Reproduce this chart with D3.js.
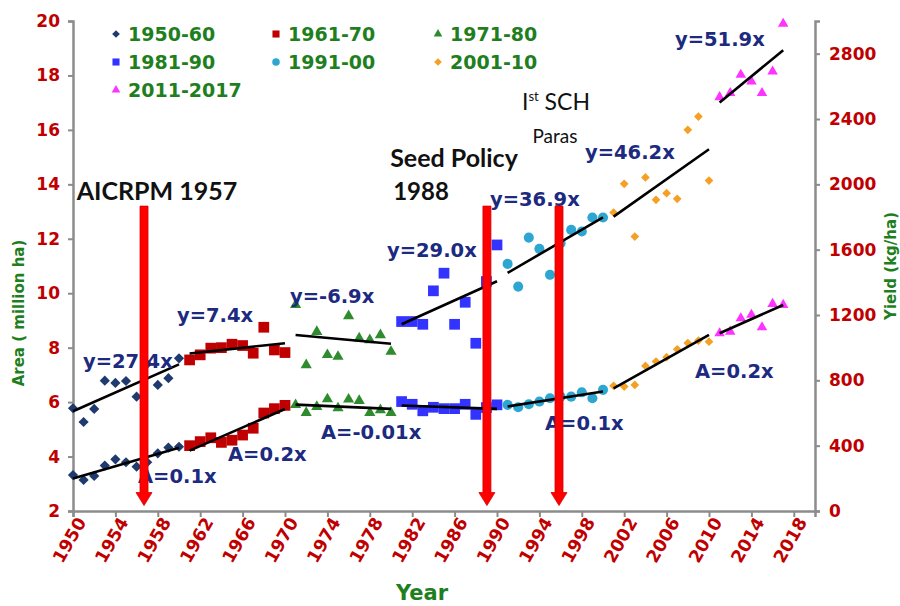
<!DOCTYPE html>
<html><head><meta charset="utf-8">
<script src="https://cdn.jsdelivr.net/npm/d3@7"></script>
<style>
html,body{margin:0;padding:0;background:#fff;}
svg{display:block;}
</style></head>
<body>
<svg id="chart" width="900" height="606"></svg>
<script>
// ---------- DATA ----------
const seriesNames = ["1950-60","1961-70","1971-80","1981-90","1991-00","2001-10","2011-2017"];
const years5060 = [1950,1951,1952,1953,1954,1955,1956,1957,1958,1959,1960];
const years6170 = [1961,1962,1963,1964,1965,1966,1967,1968,1969,1970];
const years7180 = [1971,1972,1973,1974,1975,1976,1977,1978,1979,1980];
const years8190 = [1981,1982,1983,1984,1985,1986,1987,1988,1989,1990];
const years9100 = [1991,1992,1993,1994,1995,1996,1997,1998,1999,2000];
const years0110 = [2001,2002,2003,2004,2005,2006,2007,2008,2009,2010];
const years1117 = [2011,2012,2013,2014,2015,2016,2017];

// Yield (kg/ha) – right axis
const yield5060 = [629,545,625,798,784,796,700,900,772,813,935];
const yield6170 = [925,956,997,1000,1021,1013,966,1125,986,970];
const yield7180 = [1262,894,1098,956,945,1194,1058,1047,1078,976];
const yield8190 = [1160,1160,1143,1348,1456,1143,1278,1027,1405,1629];
const yield9100 = [1513,1374,1674,1605,1446,1640,1721,1711,1797,1797];
const yield0110 = [1827,2003,1680,2042,1905,1946,1911,2334,2415,2023];
const yield1117 = [2534,2559,2671,2630,2559,2691,2983];

// Area (million ha) – left axis
const area5060 = [3.32,3.14,3.29,3.67,3.90,3.79,3.63,3.79,4.12,4.33,4.36];
const area6170 = [4.40,4.55,4.69,4.52,4.60,4.79,5.04,5.60,5.76,5.88];
const area7180 = [5.90,5.61,5.83,6.11,5.78,6.10,6.05,5.61,5.71,5.61];
const area8190 = [6.02,5.92,5.68,5.81,5.76,5.76,5.92,5.55,5.80,5.90];
const area9100 = [5.90,5.81,5.92,6.02,6.14,6.20,6.20,6.36,6.14,6.45];
const area0110 = [6.60,6.57,6.63,7.33,7.49,7.65,7.94,8.17,8.26,8.22];
const area1117 = [8.53,8.59,9.08,9.21,8.75,9.61,9.57];

const yieldEq = ["y=27.4x","y=7.4x","y=-6.9x","y=29.0x","y=36.9x","y=46.2x","y=51.9x"];
const areaEq  = ["A=0.1x","A=0.2x","A=-0.01x","A=0.1x","A=0.2x"];

const leftTicks  = [2,4,6,8,10,12,14,16,18,20];
const rightTicks = [0,400,800,1200,1600,2000,2400,2800];
const xTicks = [1950,1954,1958,1962,1966,1970,1974,1978,1982,1986,1990,1994,1998,2002,2006,2010,2014,2018];

const eventYears = [1956.7,1989.05,1995.85];
const eventTop = 13.2, eventBottom = 2.2;

// ---------- SETUP ----------
const svg = d3.select("#chart");
const x  = d3.scaleLinear().domain([1950,2020]).range([73,815]);
const yL = d3.scaleLinear().domain([2,20]).range([511,21]);
const yR = d3.scaleLinear().domain([0,3000]).range([511,21]);

const RED = "#c00000", GREEN = "#1f7f1f", NAVY = "#1c2a80", AXIS = "#8c8c8c";
const FONT = "'DejaVu Sans', Verdana, sans-serif";

const styles = [
  {color:"#1f3a6e", shape:"diamond", size:52},
  {color:"#c00000", shape:"square", size:115},
  {color:"#2e8b2e", shape:"triangle", size:54},
  {color:"#3333ff", shape:"square", size:115},
  {color:"#2ea6d2", shape:"circle", size:80},
  {color:"#f5a024", shape:"diamond", size:38},
  {color:"#ff33ff", shape:"triangle", size:48}
];
function symPath(shape, size){
  if(shape==="diamond" || shape==="square") return d3.symbol(d3.symbolSquare, size)();
  if(shape==="triangle") return d3.symbol(d3.symbolTriangle, size)();
  return d3.symbol(d3.symbolCircle, size)();
}
function symTransform(shape, cx, cy){
  return `translate(${cx},${cy})` + (shape==="diamond" ? " rotate(45)" : "");
}

const yearsArr = [years5060,years6170,years7180,years8190,years9100,years0110,years1117];
const yieldArr = [yield5060,yield6170,yield7180,yield8190,yield9100,yield0110,yield1117];
const areaArr  = [area5060,area6170,area7180,area8190,area9100,area0110,area1117];

// ---------- AXES ----------
const gL = svg.append("g").attr("transform","translate(73,0)")
  .call(d3.axisLeft(yL).tickValues(leftTicks).tickSize(5).tickPadding(8).tickFormat(d3.format("d")));
const gR = svg.append("g").attr("transform","translate(815,0)")
  .call(d3.axisRight(yR).tickValues(rightTicks).tickSize(5).tickPadding(9).tickFormat(d3.format("d")));
const gX = svg.append("g").attr("transform","translate(0,511)")
  .call(d3.axisBottom(x).tickValues(xTicks).tickSize(6).tickFormat(d3.format("d")));
[gL,gR,gX].forEach(g=>{
  g.select(".domain").attr("stroke",AXIS).attr("stroke-width",2.5);
  g.selectAll(".tick line").attr("stroke",AXIS).attr("stroke-width",2);
  g.selectAll(".tick text").attr("fill",RED).attr("font-family",FONT)
    .attr("font-weight","bold").attr("font-size",17);
});
gX.selectAll(".tick text")
  .attr("text-anchor","end")
  .attr("transform","translate(8,8) rotate(-60)")
  .attr("dy","0.35em").attr("y",0).attr("x",0)
  .attr("font-size",17.5);

// Axis titles
svg.append("text").attr("transform","translate(24,313) rotate(-90)")
  .attr("text-anchor","middle").attr("fill",GREEN).attr("font-family",FONT)
  .attr("font-weight","bold").attr("font-size",15).text("Area ( million ha)");
svg.append("text").attr("transform","translate(896,266) rotate(-90)")
  .attr("text-anchor","middle").attr("fill",GREEN).attr("font-family",FONT)
  .attr("font-weight","bold").attr("font-size",15).text("Yield (kg/ha)");
svg.append("text").attr("x",422).attr("y",600)
  .attr("text-anchor","middle").attr("fill",GREEN).attr("font-family",FONT)
  .attr("font-weight","bold").attr("font-size",21).text("Year");

// ---------- POINTS ----------
const plot = svg.append("g");
yearsArr.forEach((yrs,i)=>{
  const st = styles[i];
  const g = plot.append("g");
  g.selectAll("path.y").data(yrs.map((yr,j)=>[yr,yieldArr[i][j]])).join("path")
    .attr("d",symPath(st.shape,st.size))
    .attr("transform",d=>symTransform(st.shape,x(d[0]),yR(d[1])))
    .attr("fill",st.color);
  g.selectAll("path.a").data(yrs.map((yr,j)=>[yr,areaArr[i][j]])).join("path")
    .attr("d",symPath(st.shape,st.size))
    .attr("transform",d=>symTransform(st.shape,x(d[0]),yL(d[1])))
    .attr("fill",st.color);
});

// ---------- TREND LINES (least squares) ----------
function fit(xs, ys){
  const mx = d3.mean(xs), my = d3.mean(ys);
  let num=0, den=0;
  xs.forEach((v,k)=>{num+=(v-mx)*(ys[k]-my); den+=(v-mx)*(v-mx);});
  const b = num/den, a = my - b*mx;
  return v => a + b*v;
}
yearsArr.forEach((yrs,i)=>{
  const x0 = yrs[0], x1 = yrs[yrs.length-1];
  const fy = fit(yrs, yieldArr[i]);
  plot.append("line").attr("x1",x(x0)).attr("x2",x(x1))
    .attr("y1",yR(fy(x0))).attr("y2",yR(fy(x1)))
    .attr("stroke","#000").attr("stroke-width",2.6);
  const fa = fit(yrs, areaArr[i]);
  plot.append("line").attr("x1",x(x0)).attr("x2",x(x1))
    .attr("y1",yL(fa(x0))).attr("y2",yL(fa(x1)))
    .attr("stroke","#000").attr("stroke-width",2.6);
});

// ---------- LEGEND ----------
const legPos = [[116,33],[276,33],[438,33],[116,61],[276,61],[438,61],[116,89]];
seriesNames.forEach((name,i)=>{
  const st = styles[i];
  const [lx,ly] = legPos[i];
  const sz = st.shape==="square"?50:(st.shape==="diamond"?30:(st.shape==="circle"?45:32));
  svg.append("path").attr("d",symPath(st.shape,sz))
    .attr("transform",symTransform(st.shape,lx,ly+1)).attr("fill",st.color);
  svg.append("text").attr("x",lx+12).attr("y",ly+8)
    .attr("fill",GREEN).attr("font-family",FONT).attr("font-weight","bold")
    .attr("font-size",19).text(name);
});

// ---------- EQUATION LABELS ----------
const yEqPos = [[83,368],[177,322],[290,303],[387,257],[490,206],[585,159],[675,46]];
yieldEq.forEach((t,i)=>{
  svg.append("text").attr("x",yEqPos[i][0]).attr("y",yEqPos[i][1])
    .attr("fill",NAVY).attr("font-family",FONT).attr("font-weight","bold")
    .attr("font-size",19.5).text(t);
});
const aEqPos = [[138,483],[228,461],[321,439],[545,430],[695,378]];
areaEq.forEach((t,i)=>{
  svg.append("text").attr("x",aEqPos[i][0]).attr("y",aEqPos[i][1])
    .attr("fill",NAVY).attr("font-family",FONT).attr("font-weight","bold")
    .attr("font-size",19.5).text(t);
});

// ---------- EVENT ANNOTATIONS ----------
const ANN = "Lato, 'Open Sans', sans-serif";
svg.append("text").attr("x",157).attr("y",200).attr("text-anchor","middle")
  .attr("font-family",ANN).attr("font-weight","bold").attr("font-size",25)
  .attr("fill","#111").text("AICRPM 1957");
svg.append("text").attr("x",454).attr("y",167).attr("text-anchor","middle")
  .attr("font-family",ANN).attr("font-weight","bold").attr("font-size",25)
  .attr("fill","#111").text("Seed Policy");
svg.append("text").attr("x",421).attr("y",200).attr("text-anchor","middle")
  .attr("font-family",ANN).attr("font-weight","bold").attr("font-size",24)
  .attr("fill","#111").text("1988");
const sch = svg.append("text").attr("x",556).attr("y",110).attr("text-anchor","middle")
  .attr("font-family",ANN).attr("font-weight","normal").attr("font-size",23).attr("fill","#111");
sch.append("tspan").text("I");
sch.append("tspan").attr("font-size",13).attr("dy",-9).text("st");
sch.append("tspan").attr("dy",9).text(" SCH");
svg.append("text").attr("x",555).attr("y",143).attr("text-anchor","middle")
  .attr("font-family",ANN).attr("font-weight","normal").attr("font-size",19)
  .attr("fill","#111").text("Paras");

// ---------- RED ARROWS ----------
eventYears.forEach(ey=>{
  const cx = x(ey), top = yL(eventTop), tip = yL(eventBottom);
  const sw = 4, hw = 8, hh = 13;
  const p = d3.path();
  p.moveTo(cx-sw, top); p.lineTo(cx+sw, top); p.lineTo(cx+sw, tip-hh);
  p.lineTo(cx+hw, tip-hh); p.lineTo(cx, tip); p.lineTo(cx-hw, tip-hh);
  p.lineTo(cx-sw, tip-hh); p.closePath();
  svg.append("path").attr("d",p.toString()).attr("fill","#ff0000")
    .attr("stroke","#d40000").attr("stroke-width",0.8);
});
</script>
</body></html>
